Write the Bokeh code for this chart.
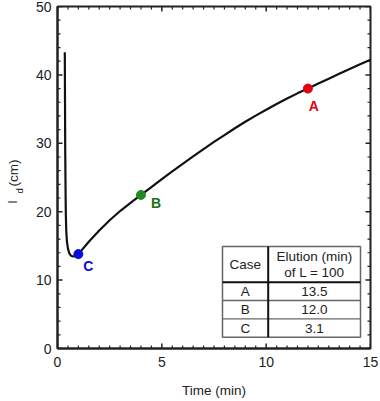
import math
from bokeh.plotting import figure
from bokeh.layouts import row
from bokeh.models import Range1d, ColumnDataSource, FixedTicker
from bokeh.core.properties import value
from bokeh.embed import file_html
from bokeh.resources import INLINE

# ---- data ----
time_min = [0.35, 0.36, 0.37, 0.39, 0.40, 0.42, 0.45, 0.50, 0.57, 0.65, 0.75, 0.85, 0.92,
            1.0, 1.5, 2.0, 2.5, 3.0, 3.5, 4.0, 4.5, 5.0, 5.5, 6.0, 6.5, 7.0, 7.5, 8.0,
            8.5, 9.0, 9.5, 10.0, 10.5, 11.0, 11.5, 12.0, 12.5, 13.0, 13.5, 14.0, 14.5, 15.0]
ld_cm = [43.3, 36.0, 29.0, 22.0, 19.5, 17.2, 15.7, 14.6, 13.9, 13.55, 13.45, 13.5, 13.6,
         13.8, 15.6, 17.25, 18.75, 20.1, 21.3, 22.45, 23.6, 24.75, 25.9, 27.0, 28.1, 29.15,
         30.2, 31.2, 32.2, 33.15, 34.05, 34.9, 35.75, 36.55, 37.3, 38.0, 38.75, 39.45,
         40.15, 40.85, 41.55, 42.2]

cases = ["A", "B", "C"]
case_time = [12.0, 4.0, 1.0]
case_ld = [38.0, 22.45, 13.8]
case_colors = ["#e3000f", "#1f8a1f", "#0a0adc"]
label_colors = ["#e3000f", "#17701a", "#0a0adc"]
elution = ["13.5", "12.0", "3.1"]

x_ticks = [0, 5, 10, 15]
y_ticks = [0, 10, 20, 30, 40, 50]
x_minor = [i * 0.5 for i in range(31)]
y_minor = [i * 2 for i in range(26)]

FONT = "Liberation Sans"
TXT = "#222222"
AX = "#222222"

W, H = 380, 401
LW = 30                      # width of the strip that holds the y-axis title
BL, BR, BT, BB = 57, 10, 6, 53
X0, X1, Y0, Y1 = 0, 15, 0, 50
FW, FH = W - BL - BR, H - BT - BB

# pixel -> data helpers (for placing annotations / tick lengths)
def dx(px):
    return px * (X1 - X0) / FW

def dy(px):
    return px * (Y1 - Y0) / FH

def xdata(px_abs):
    return X0 + (px_abs - BL) * (X1 - X0) / FW

def ydata(py_abs):
    return Y0 + (BT + FH - py_abs) * (Y1 - Y0) / FH

# ---- y-axis title strip (real SVG text, rotated); frame aligned with main frame ----
lf = figure(width=LW, height=H, output_backend="svg", toolbar_location=None,
            x_range=Range1d(0, LW), y_range=Range1d(Y0, Y1),
            x_axis_location=None, y_axis_location=None,
            min_border_left=0, min_border_right=0, min_border_top=BT, min_border_bottom=BB)
lf.grid.visible = False
lf.outline_line_color = None
lf.border_fill_color = "white"
lf.background_fill_color = "white"
lkw = dict(angle=math.pi / 2, text_font=value(FONT), text_color=TXT,
           text_align="left", text_baseline="alphabetic")
lf.text([11.5], [ydata(203)], text=["l"], text_font_size="13.5px", **lkw)
lf.text([18.5], [ydata(193)], text=["d"], text_font_size="9.5px", **lkw)
lf.text([12.5], [ydata(186)], text=["(cm)"], text_font_size="13.5px", **lkw)

# ---- main plot ----
p = figure(width=W - LW, height=H, output_backend="svg", toolbar_location=None,
           x_range=Range1d(X0, X1), y_range=Range1d(Y0, Y1),
           min_border_left=BL - LW, min_border_right=BR, min_border_top=BT, min_border_bottom=BB)
p.grid.visible = False
p.outline_line_color = AX
p.outline_line_width = 2
p.background_fill_color = "white"
p.border_fill_color = "white"

for ax in (p.xaxis[0], p.yaxis[0]):
    ax.axis_line_color = AX
    ax.axis_line_width = 2
    ax.major_tick_line_color = None
    ax.minor_tick_line_color = None
    ax.major_tick_out = 0
    ax.minor_tick_out = 0
    ax.major_label_text_font = FONT
    ax.major_label_text_color = TXT
    ax.major_label_text_font_size = "14px"

xa = p.xaxis[0]
xa.ticker = FixedTicker(ticks=x_ticks)
xa.major_label_standoff = 8
xa.axis_label = "Time (min)"
xa.axis_label_text_font = FONT
xa.axis_label_text_font_size = "13.5px"
xa.axis_label_text_font_style = "normal"
xa.axis_label_text_color = TXT
xa.axis_label_standoff = 13

ya = p.yaxis[0]
ya.ticker = FixedTicker(ticks=y_ticks)
ya.major_label_standoff = 6

# inward ticks on all four sides
MAJ, MIN = 5, 3
xmin_only = [v for v in x_minor if v not in x_ticks]
ymin_only = [v for v in y_minor if v not in y_ticks]
tick_kw = dict(line_color=AX)
p.segment(x0=x_ticks, y0=[Y0] * len(x_ticks), x1=x_ticks, y1=[Y0 + dy(MAJ)] * len(x_ticks), line_width=1.5, **tick_kw)
p.segment(x0=x_ticks, y0=[Y1] * len(x_ticks), x1=x_ticks, y1=[Y1 - dy(MAJ)] * len(x_ticks), line_width=1.5, **tick_kw)
p.segment(x0=xmin_only, y0=[Y0] * len(xmin_only), x1=xmin_only, y1=[Y0 + dy(MIN)] * len(xmin_only), line_width=1.2, **tick_kw)
p.segment(x0=xmin_only, y0=[Y1] * len(xmin_only), x1=xmin_only, y1=[Y1 - dy(MIN)] * len(xmin_only), line_width=1.2, **tick_kw)
p.segment(x0=[X0] * len(y_ticks), y0=y_ticks, x1=[X0 + dx(MAJ)] * len(y_ticks), y1=y_ticks, line_width=1.5, **tick_kw)
p.segment(x0=[X1] * len(y_ticks), y0=y_ticks, x1=[X1 - dx(MAJ)] * len(y_ticks), y1=y_ticks, line_width=1.5, **tick_kw)
p.segment(x0=[X0] * len(ymin_only), y0=ymin_only, x1=[X0 + dx(MIN)] * len(ymin_only), y1=ymin_only, line_width=1.2, **tick_kw)
p.segment(x0=[X1] * len(ymin_only), y0=ymin_only, x1=[X1 - dx(MIN)] * len(ymin_only), y1=ymin_only, line_width=1.2, **tick_kw)

# curve
p.line(time_min, ld_cm, line_color="#111111", line_width=2.2)

# points
src = ColumnDataSource(dict(x=case_time, y=case_ld, c=case_colors))
p.scatter("x", "y", source=src, size=9, fill_color="c", line_color="c")
xoffs = [6, 15, 10]
yoffs = [17, 8, 12]
for i in range(3):
    p.text([case_time[i]], [case_ld[i]], text=[cases[i]], text_color=label_colors[i],
           text_font=value(FONT), text_font_size="14px", text_font_style="bold",
           text_align="center", text_baseline="middle", x_offset=xoffs[i], y_offset=yoffs[i])

# table
tl, tr, tt, tb = xdata(222), xdata(360), ydata(246), ydata(336.7)
hdr, div = ydata(281.7), xdata(267.7)
rows_y = [ydata(300), ydata(318.3)]
p.quad(left=[tl], right=[tr], top=[tt], bottom=[tb], fill_color="white",
       line_color="#666666", line_width=1.5)
p.segment(x0=[tl, tl], y0=rows_y, x1=[tr, tr], y1=rows_y, line_color="#666666", line_width=1.3)
p.segment(x0=[tl], y0=[hdr], x1=[tr], y1=[hdr], line_color="#111111", line_width=2)
p.segment(x0=[div], y0=[tt], x1=[div], y1=[tb], line_color="#111111", line_width=2)

c1 = (tl + div) / 2
c2 = (div + tr) / 2
tkw = dict(text_font=value(FONT), text_font_size="13.5px", text_color=TXT,
           text_align="center", text_baseline="middle")
p.text([c1], [(tt + hdr) / 2], text=["Case"], **tkw)
p.text([c2, c2], [ydata(256), ydata(271.7)], text=["Elution (min)", "of L = 100"], **tkw)
row_centers = [(hdr + rows_y[0]) / 2, (rows_y[0] + rows_y[1]) / 2, (rows_y[1] + tb) / 2]
p.text([c1] * 3, row_centers, text=cases, **tkw)
p.text([c2] * 3, row_centers, text=elution, **tkw)

layout = row(lf, p, spacing=0)
open("out.html", "w").write(file_html(layout, INLINE))
